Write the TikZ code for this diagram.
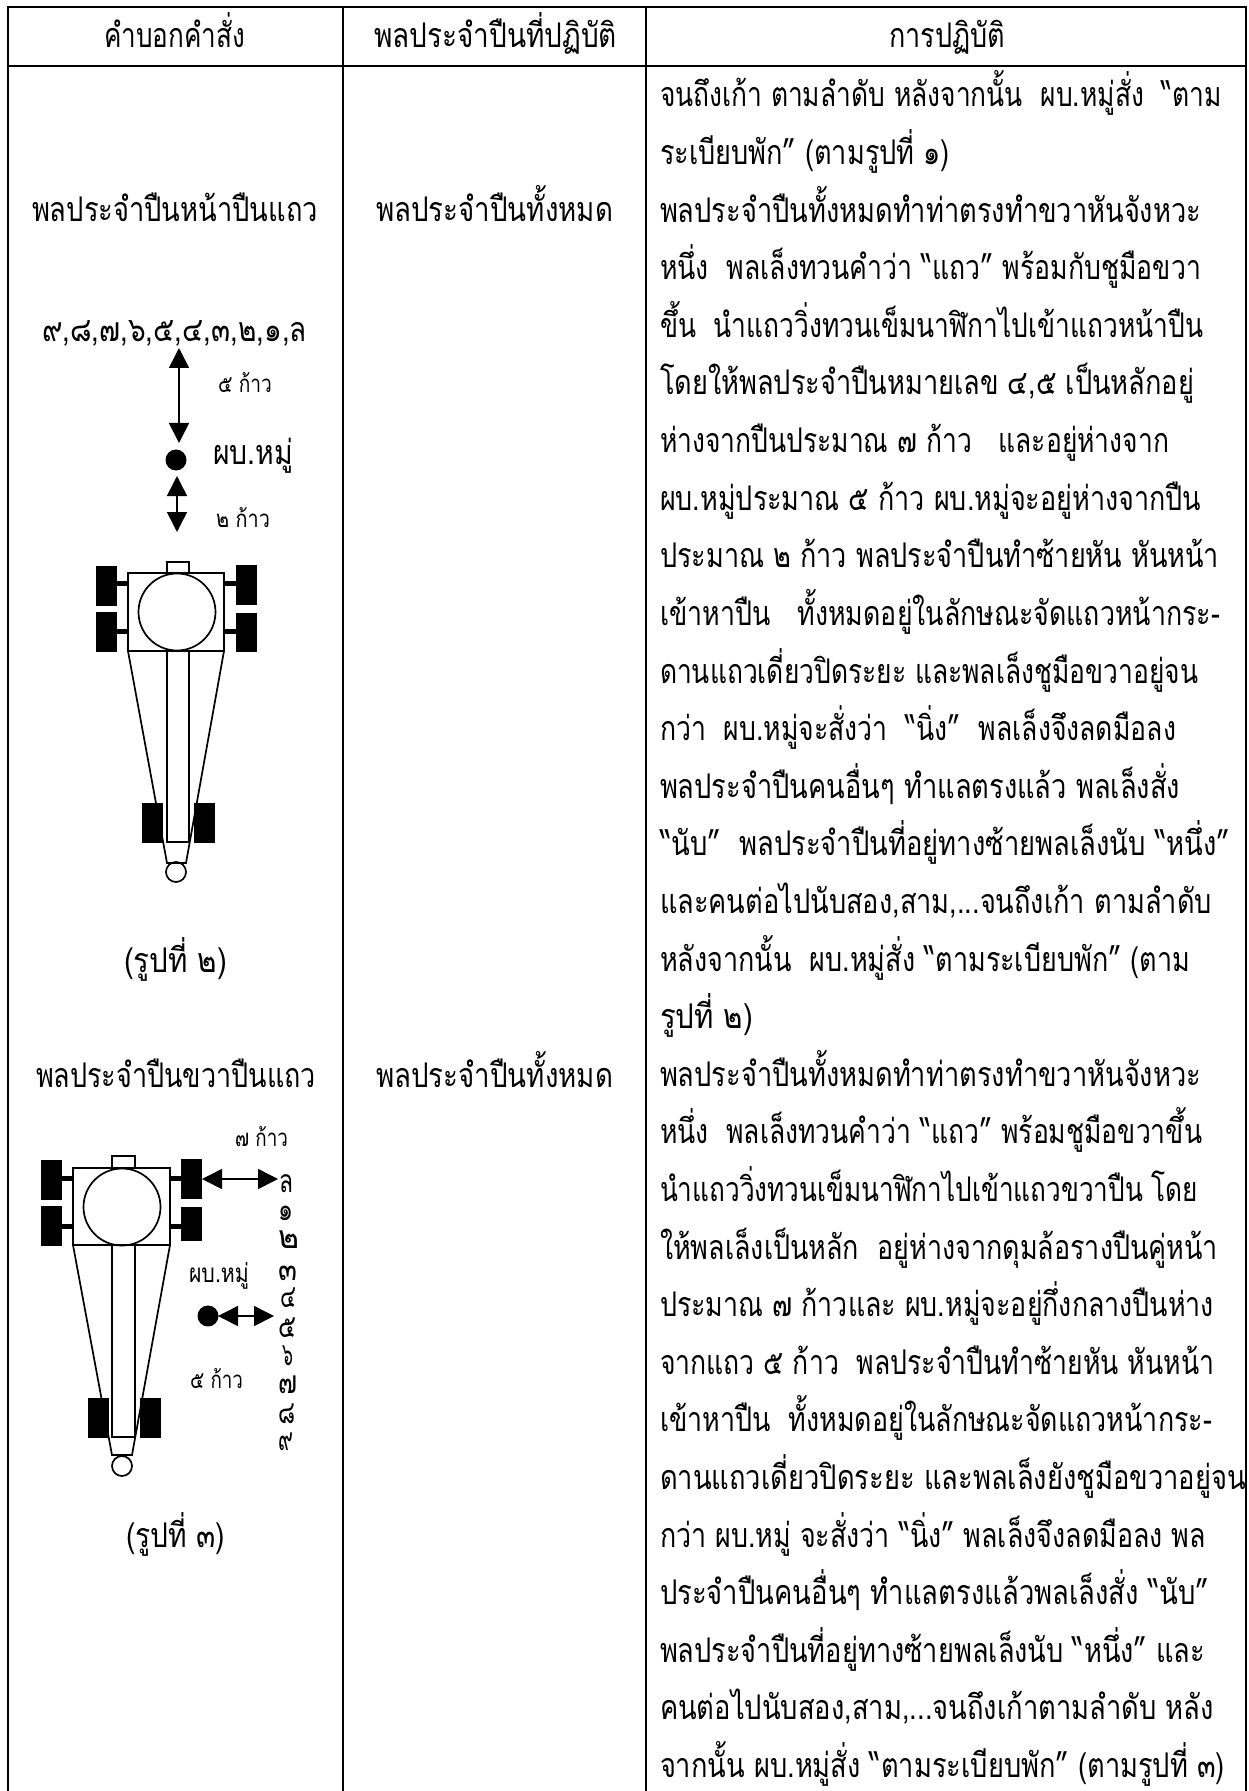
\documentclass[tikz,border=0pt]{standalone}
\usepackage{fontspec}
\usepackage{graphicx}
\usetikzlibrary{arrows.meta}
\setmainfont[Script=Thai]{Loma}
\tikzset{
  txt/.style={inner sep=0pt,outer sep=0pt,anchor=base west,text=black},
  rule/.style={line width=1pt,black},
  gunline/.style={line width=0.85pt,black},
  wheel/.style={fill=black,draw=none},
  arr/.style={line width=0.8pt,black,{Triangle[length=10pt,width=10pt]}-{Triangle[length=10pt,width=10pt]}},
  soldier/.style={circle,fill=black,draw=none,minimum size=10.5pt,inner sep=0pt}
}
% name, x left, x right, baseline, font size, text
\newcommand\lbl[6]{%
  \pgfmathsetlengthmacro\fitlen{(#3-#2)*0.5pt}%
  \node[txt] (#1) at (#2,#4) {\fontsize{#5}{#5}\selectfont\resizebox{\fitlen}{\height}{#6}};%
}
% line number, x right, text
\newcommand\bline[3]{%
  \pgfmathsetmacro\liney{107+57.6*(#1-1)}%
  \lbl{r#1}{660}{#2}{\liney}{17}{#3}%
}
\begin{document}
\begin{tikzpicture}[x=0.5pt,y=-0.5pt]
\useasboundingbox (0,0) rectangle (1248,1791);
\fill[white] (0,0) rectangle (1248,1791);
% table
\draw[rule] (7.5,1791) -- (7.5,7) -- (1246,7) -- (1246,1791);
\draw[rule] (7.5,66) -- (1246,66);
\draw[rule] (343,7) -- (343,1791);
\draw[rule] (646,7) -- (646,1791);
% header
\lbl{h1}{104}{245}{48}{17}{คำบอกคำสั่ง}
\lbl{h2}{374}{617}{48}{17}{พลประจำปืนที่ปฏิบัติ}
\lbl{h3}{889}{1005}{48}{17}{การปฏิบัติ}
% left and middle columns
\lbl{c1a}{32}{318}{222}{17}{พลประจำปืนหน้าปืนแถว}
\lbl{c2a}{376}{613}{222}{17}{พลประจำปืนทั้งหมด}
\lbl{c1b}{36}{316}{1087}{17}{พลประจำปืนขวาปืนแถว}
\lbl{c2b}{376}{613}{1087}{17}{พลประจำปืนทั้งหมด}
\lbl{fig2}{124}{227}{972}{17}{(รูปที่ ๒)}
\lbl{fig3}{126}{225}{1547}{17}{(รูปที่ ๓)}
% right column
\bline{1}{1222}{จนถึงเก้า ตามลำดับ หลังจากนั้น~~ผบ.หมู่สั่ง~~“ตาม}
\bline{2}{950}{ระเบียบพัก” (ตามรูปที่ ๑)}
\bline{3}{1201}{พลประจำปืนทั้งหมดทำท่าตรงทำขวาหันจังหวะ}
\bline{4}{1201}{หนึ่ง~~พลเล็งทวนคำว่า “แถว” พร้อมกับชูมือขวา}
\bline{5}{1203}{ขึ้น~~นำแถววิ่งทวนเข็มนาฬิกาไปเข้าแถวหน้าปืน}
\bline{6}{1194}{โดยให้พลประจำปืนหมายเลข ๔,๕ เป็นหลักอยู่}
\bline{7}{1169}{ห่างจากปืนประมาณ ๗ ก้าว~~~และอยู่ห่างจาก}
\bline{8}{1201}{ผบ.หมู่ประมาณ ๕ ก้าว ผบ.หมู่จะอยู่ห่างจากปืน}
\bline{9}{1219}{ประมาณ ๒ ก้าว พลประจำปืนทำซ้ายหัน หันหน้า}
\bline{10}{1220}{เข้าหาปืน~~~ทั้งหมดอยู่ในลักษณะจัดแถวหน้ากระ-}
\bline{11}{1198}{ดานแถวเดี่ยวปิดระยะ และพลเล็งชูมือขวาอยู่จน}
\bline{12}{1176}{กว่า~~ผบ.หมู่จะสั่งว่า~~“นิ่ง”~~พลเล็งจึงลดมือลง}
\bline{13}{1180}{พลประจำปืนคนอื่นๆ ทำแลตรงแล้ว พลเล็งสั่ง}
\bline{14}{1230}{“นับ”~~พลประจำปืนที่อยู่ทางซ้ายพลเล็งนับ “หนึ่ง”}
\bline{15}{1212}{และคนต่อไปนับสอง,สาม,...จนถึงเก้า ตามลำดับ}
\bline{16}{1190}{หลังจากนั้น~~ผบ.หมู่สั่ง “ตามระเบียบพัก” (ตาม}
\bline{17}{753}{รูปที่ ๒)}
\bline{18}{1201}{พลประจำปืนทั้งหมดทำท่าตรงทำขวาหันจังหวะ}
\bline{19}{1202}{หนึ่ง~~พลเล็งทวนคำว่า “แถว” พร้อมชูมือขวาขึ้น}
\bline{20}{1198}{นำแถววิ่งทวนเข็มนาฬิกาไปเข้าแถวขวาปืน โดย}
\bline{21}{1218}{ให้พลเล็งเป็นหลัก~~อยู่ห่างจากดุมล้อรางปืนคู่หน้า}
\bline{22}{1214}{ประมาณ ๗ ก้าวและ ผบ.หมู่จะอยู่กึ่งกลางปืนห่าง}
\bline{23}{1214}{จากแถว ๕ ก้าว~~พลประจำปืนทำซ้ายหัน หันหน้า}
\bline{24}{1212}{เข้าหาปืน~~ทั้งหมดอยู่ในลักษณะจัดแถวหน้ากระ-}
\bline{25}{1246}{ดานแถวเดี่ยวปิดระยะ และพลเล็งยังชูมือขวาอยู่จน}
\bline{26}{1206}{กว่า ผบ.หมู่ จะสั่งว่า “นิ่ง” พลเล็งจึงลดมือลง พล}
\bline{27}{1209}{ประจำปืนคนอื่นๆ ทำแลตรงแล้วพลเล็งสั่ง “นับ”}
\bline{28}{1205}{พลประจำปืนที่อยู่ทางซ้ายพลเล็งนับ “หนึ่ง” และ}
\bline{29}{1214}{คนต่อไปนับสอง,สาม,...จนถึงเก้าตามลำดับ หลัง}
\bline{30}{1225}{จากนั้น ผบ.หมู่สั่ง “ตามระเบียบพัก” (ตามรูปที่ ๓)}
% figure 2 labels
\lbl{rowa}{42}{307}{342}{17}{๙,๘,๗,๖,๕,๔,๓,๒,๑,ล}
\lbl{fivea}{218}{272}{393}{12}{๕ ก้าว}
\lbl{leada}{213}{293}{465}{17}{ผบ.หมู่}
\lbl{twoa}{216}{270}{527}{12}{๒ ก้าว}
\node[soldier] (dota) at (176,460) {};
\coordinate (a1) at (179,348);
\coordinate (a2) at (179,443);
\coordinate (a3) at (177,476);
\coordinate (a4) at (177,532);
\draw[arr] (a1) -- (a2);
\draw[arr] (a3) -- (a4);
% gun, figure 2
\draw[gunline] (167,573) -- (167,562) -- (189,562) -- (189,573);
\draw[gunline] (128,573) rectangle (224,651);
\draw[gunline] (177,612) circle[radius=38.5];
\draw[gunline] (128,651) -- (167,863) -- (186,863) -- (224,651);
\draw[gunline] (167,651) -- (167,842) -- (189,842) -- (189,651);
\draw[gunline] (176,872) circle[radius=10];
\fill[wheel] (96,566) rectangle (117,606);
\fill[wheel] (96,612) rectangle (117,652);
\fill[wheel] (236,565) rectangle (257,605);
\fill[wheel] (236,613) rectangle (257,652);
\fill[wheel] (117,581) rectangle (128,586);
\fill[wheel] (117,629) rectangle (128,634);
\fill[wheel] (224,581) rectangle (236,586);
\fill[wheel] (224,629) rectangle (236,634);
\fill[wheel] (142,803) rectangle (163,843);
\fill[wheel] (194,803) rectangle (215,843);
% figure 3 labels
\lbl{sevenb}{235}{288}{1146}{12}{๗ ก้าว}
\lbl{leadb}{189}{249}{1282}{13}{ผบ.หมู่}
\lbl{fiveb}{190}{243}{1388}{12}{๕ ก้าว}
\lbl{d0}{279}{293}{1192}{16}{ล}
\lbl{d1}{278}{293}{1220}{16}{๑}
\lbl{d2}{278}{299}{1248}{16}{๒}
\lbl{d3}{278}{297}{1280}{16}{๓}
\lbl{d4}{280}{296}{1307}{16}{๔}
\lbl{d5}{278}{296}{1337}{16}{๕}
\lbl{d6}{282}{293}{1365}{16}{๖}
\lbl{d7}{278}{297}{1393}{16}{๗}
\lbl{d8}{278}{295}{1423}{16}{๘}
\lbl{d9}{278}{293}{1450}{16}{๙}
\node[soldier] (dotb) at (208,1316) {};
\coordinate (b1) at (202,1179);
\coordinate (b2) at (278,1179);
\coordinate (b3) at (218,1316);
\coordinate (b4) at (274,1316);
\draw[arr] (b1) -- (b2);
\draw[arr] (b3) -- (b4);
% gun, figure 3
\draw[gunline] (112,1168) -- (112,1156) -- (135,1156) -- (135,1168);
\draw[gunline] (73,1168) rectangle (170,1245);
\draw[gunline] (122,1207) circle[radius=38.5];
\draw[gunline] (73,1245) -- (112,1455) -- (132,1455) -- (170,1245);
\draw[gunline] (112,1245) -- (112,1437) -- (135,1437) -- (135,1245);
\draw[gunline] (122,1466) circle[radius=10];
\fill[wheel] (41,1160) rectangle (62,1200);
\fill[wheel] (41,1206) rectangle (62,1246);
\fill[wheel] (181,1159) rectangle (202,1199);
\fill[wheel] (181,1207) rectangle (202,1241);
\fill[wheel] (62,1176) rectangle (73,1181);
\fill[wheel] (62,1224) rectangle (73,1229);
\fill[wheel] (170,1176) rectangle (181,1181);
\fill[wheel] (170,1224) rectangle (181,1229);
\fill[wheel] (88,1398) rectangle (109,1438);
\fill[wheel] (140,1398) rectangle (161,1438);
\end{tikzpicture}
\end{document}
